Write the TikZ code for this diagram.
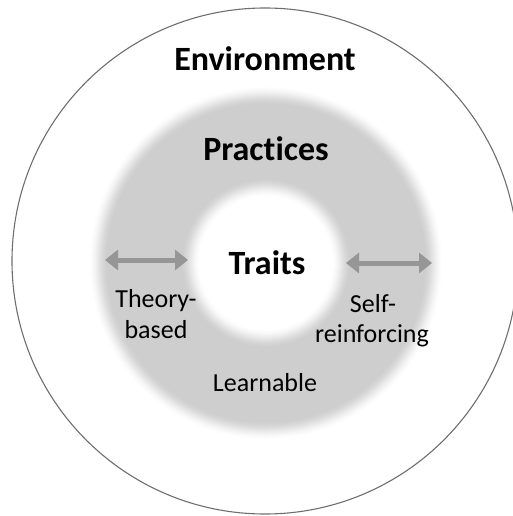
\documentclass[tikz,border=0pt]{standalone}
\usepackage{fontspec}
\setmainfont{Carlito}[Ligatures=NoCommon]
\usetikzlibrary{arrows.meta}

\definecolor{ringgrey}{RGB}{206,206,206}
\definecolor{arrowgrey}{RGB}{150,150,150}
\definecolor{edgegrey}{RGB}{110,110,110}

\tikzset{
  bigword/.style={font=\fontsize{34}{36}\selectfont\bfseries, anchor=base, inner sep=0pt},
  smallword/.style={font=\fontsize{26}{31}\selectfont, anchor=base, inner sep=0pt, align=center},
  twoway/.style={draw=arrowgrey, line width=5pt,
    {Triangle[width=20pt,length=13pt]}-{Triangle[width=20pt,length=13pt]}}
}

\begin{document}
\begin{tikzpicture}[x=1pt,y=-1pt]
  \useasboundingbox (0,0) rectangle (513,516);
  \coordinate (core) at (266,263);

  % grey practices ring with soft edges: stacked discs, outermost first
  \foreach \r in {184,183,...,60} {
    \pgfmathsetmacro{\t}{max(0,min(1,(178-\r)/20))}
    \pgfmathsetmacro{\u}{max(0,min(1,(\r-66)/20))}
    \pgfmathsetmacro{\p}{100*\t*\t*(3-2*\t)*\u*\u*(3-2*\u)}
    \fill[ringgrey!\p!white] (core) circle[radius=\r];
  }

  % environment boundary
  \begin{scope}
    \clip (0,0) rectangle (513,516);
    \draw[edgegrey, line width=1.1pt] (265,261) circle[radius=253];
  \end{scope}

  \node[bigword] (env) at (265,71) {Environment};
  \node[bigword] (prac) at (266,160) {Practices};
  \node[bigword] (traits) at (267,274) {Traits};

  \node[smallword] (theory) at (156,307) {Theory-};
  \node[smallword] (based) at (156,338) {based};
  \node[smallword] (self) at (373,312) {Self-};
  \node[smallword] (reinf) at (372,342) {reinforcing};
  \node[smallword] (learn) at (265,391) {Learnable};

  % double-headed arrows linking traits with practices
  \coordinate (la) at (105,260);
  \coordinate (lb) at (188,260);
  \coordinate (ra) at (346,263);
  \coordinate (rb) at (432,263);
  \draw[twoway] (la) -- (lb);
  \draw[twoway] (ra) -- (rb);
\end{tikzpicture}
\end{document}
